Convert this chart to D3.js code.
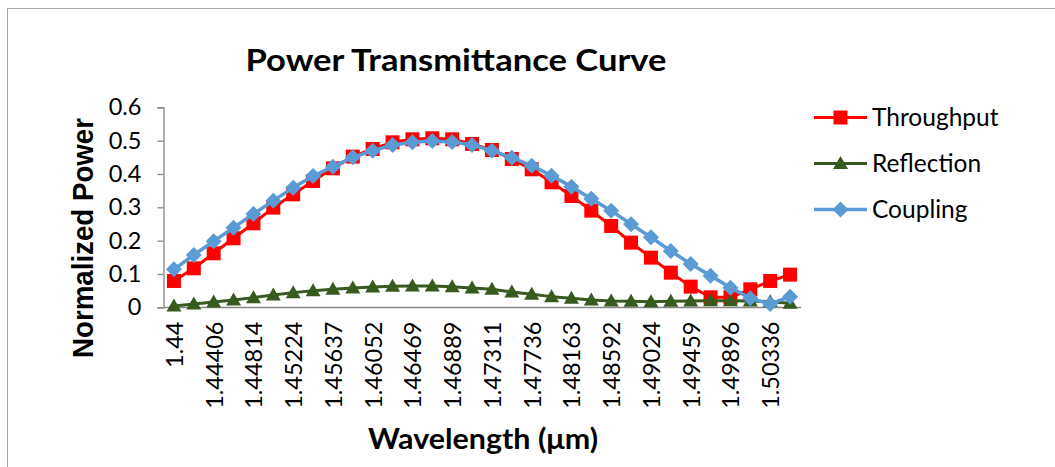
<!DOCTYPE html>
<html>
<head>
<meta charset="utf-8">
<script src="https://cdn.jsdelivr.net/npm/d3@7"></script>
<style>
  html, body { margin: 0; padding: 0; background: #fff; }
  svg { display: block; }
</style>
</head>
<body>
<svg id="chart" width="1055" height="467"></svg>
<script>
// Wavelength categories (µm); every other one is labelled on the axis
const wavelengths = [
  1.44, 1.44203, 1.44406, 1.4461, 1.44814, 1.45019, 1.45224, 1.4543,
  1.45637, 1.45844, 1.46052, 1.4626, 1.46469, 1.46679, 1.46889, 1.471,
  1.47311, 1.47523, 1.47736, 1.47949, 1.48163, 1.48377, 1.48592, 1.48808,
  1.49024, 1.49241, 1.49459, 1.49677, 1.49896, 1.50116, 1.50336, 1.50557
];
const tickLabels = [
  "1.44", "1.44406", "1.44814", "1.45224", "1.45637", "1.46052", "1.46469", "1.46889",
  "1.47311", "1.47736", "1.48163", "1.48592", "1.49024", "1.49459", "1.49896", "1.50336"
];
const throughput = [
  0.079, 0.117, 0.162, 0.207, 0.252, 0.299, 0.339, 0.379,
  0.417, 0.452, 0.475, 0.495, 0.504, 0.507, 0.504, 0.490,
  0.472, 0.445, 0.414, 0.375, 0.334, 0.290, 0.244, 0.194,
  0.149, 0.104, 0.062, 0.030, 0.030, 0.054, 0.079, 0.098
];
const reflection = [
  0.004, 0.010, 0.016, 0.022, 0.029, 0.037, 0.044, 0.050,
  0.054, 0.058, 0.061, 0.063, 0.064, 0.064, 0.062, 0.058,
  0.054, 0.046, 0.039, 0.032, 0.027, 0.022, 0.019, 0.018,
  0.017, 0.018, 0.019, 0.020, 0.020, 0.019, 0.017, 0.012
];
const coupling = [
  0.114, 0.157, 0.198, 0.239, 0.280, 0.320, 0.359, 0.394,
  0.422, 0.450, 0.470, 0.487, 0.495, 0.499, 0.496, 0.487,
  0.470, 0.449, 0.425, 0.395, 0.362, 0.326, 0.290, 0.249,
  0.210, 0.169, 0.130, 0.095, 0.059, 0.027, 0.010, 0.032
];
const yTicks = [0, 0.1, 0.2, 0.3, 0.4, 0.5, 0.6];

const seriesList = [
  { name: "Throughput", values: throughput, color: "#FF0000", marker: "square", width: 3 },
  { name: "Reflection", values: reflection, color: "#375A1F", marker: "triangle", width: 3 },
  { name: "Coupling",   values: coupling,   color: "#5B9BD5", marker: "diamond", width: 3.5 }
];

const svg = d3.select("#chart");
const FONT = "Lato, 'Open Sans', sans-serif";

// outer chart frame
svg.append("rect")
  .attr("x", 7.5).attr("y", 8.5)
  .attr("width", 1100).attr("height", 500)
  .attr("fill", "#fff").attr("stroke", "#a6a6a6").attr("stroke-width", 1);

const x = d3.scalePoint().domain(d3.range(wavelengths.length)).range([164, 800]).padding(0.5);
const y = d3.scaleLinear().domain([0, 0.6]).range([307.3, 107.3]);

// title
svg.append("text")
  .attr("x", 456).attr("y", 71)
  .attr("text-anchor", "middle")
  .attr("font-family", FONT).attr("font-weight", "bold").attr("font-size", 31)
  .attr("textLength", 421).attr("lengthAdjust", "spacingAndGlyphs")
  .attr("fill", "#000")
  .text("Power Transmittance Curve");

// y axis
const yAxis = svg.append("g")
  .attr("transform", "translate(163.5,0)")
  .call(d3.axisLeft(y).tickValues(yTicks).tickSize(6).tickPadding(16).tickFormat(d3.format("")));
yAxis.select(".domain").attr("stroke", "#868686").attr("stroke-width", 1.3);
yAxis.selectAll(".tick line").attr("stroke", "#868686").attr("stroke-width", 1.3);
yAxis.selectAll(".tick text")
  .attr("font-family", FONT).attr("font-size", 23.5).attr("fill", "#000");

// x axis (category axis, labels on alternate categories)
const xAxis = svg.append("g")
  .attr("transform", "translate(0,307.5)")
  .call(d3.axisBottom(x).tickSize(0).tickSizeOuter(0)
    .tickValues(d3.range(0, wavelengths.length, 2))
    .tickFormat((d, i) => tickLabels[i]));
xAxis.select(".domain").attr("stroke", "#868686").attr("stroke-width", 1.3)
  .attr("d", "M164,0H801");
xAxis.selectAll(".tick text")
  .attr("font-family", FONT).attr("font-size", 23.5).attr("fill", "#000")
  .attr("transform", "rotate(-90)")
  .attr("text-anchor", "end")
  .attr("x", -14).attr("y", 0).attr("dy", "0.36em");

// axis titles
svg.append("text")
  .attr("transform", "translate(93,238) rotate(-90)")
  .attr("text-anchor", "middle")
  .attr("font-family", "'Liberation Sans', Arial, sans-serif").attr("font-weight", "bold").attr("font-size", 29)
  .attr("textLength", 240).attr("lengthAdjust", "spacingAndGlyphs")
  .attr("fill", "#000")
  .text("Normalized Power");

svg.append("text")
  .attr("x", 483).attr("y", 449)
  .attr("text-anchor", "middle")
  .attr("font-family", FONT).attr("font-weight", "bold").attr("font-size", 29)
  .attr("textLength", 230).attr("lengthAdjust", "spacingAndGlyphs")
  .attr("fill", "#000")
  .text("Wavelength (\u03BCm)");

// marker shapes
function markerPath(kind) {
  if (kind === "square") return "M-7,-7H7V7H-7Z";
  if (kind === "diamond") return "M0,-8L8,0L0,8L-8,0Z";
  return "M0,-7.5L7.5,5.5H-7.5Z";
}

const line = d3.line().x((d, i) => x(i)).y(d => y(d));

seriesList.forEach(s => {
  const g = svg.append("g");
  g.append("path")
    .datum(s.values)
    .attr("d", line)
    .attr("fill", "none")
    .attr("stroke", s.color)
    .attr("stroke-width", s.width)
    .attr("stroke-linejoin", "round");
  g.selectAll("path.mk")
    .data(s.values)
    .join("path")
    .attr("class", "mk")
    .attr("transform", (d, i) => `translate(${x(i)},${y(d)})`)
    .attr("d", markerPath(s.marker))
    .attr("fill", s.color);
});

// legend
const legend = svg.append("g");
seriesList.forEach((s, k) => {
  const ly = 117.5 + k * 46;
  legend.append("line")
    .attr("x1", 814).attr("x2", 867).attr("y1", ly).attr("y2", ly)
    .attr("stroke", s.color).attr("stroke-width", s.width);
  legend.append("path")
    .attr("transform", `translate(840.5,${ly})`)
    .attr("d", markerPath(s.marker))
    .attr("fill", s.color);
  legend.append("text")
    .attr("x", 872).attr("y", ly)
    .attr("dy", "0.35em")
    .attr("font-family", FONT).attr("font-size", 24.5)
    .attr("fill", "#000")
    .text(s.name);
});
</script>
</body>
</html>
